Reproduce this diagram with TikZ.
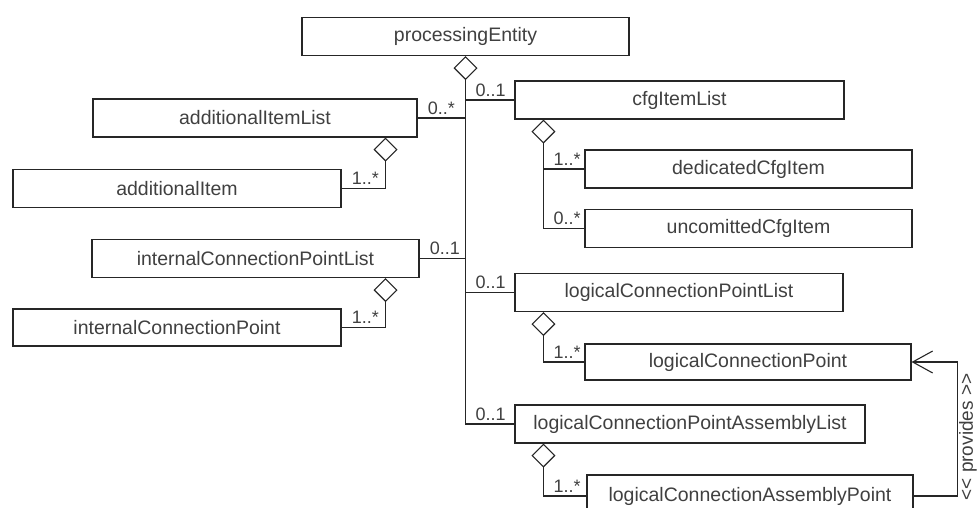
\documentclass[tikz,border=0pt]{standalone}
\usepackage{fontspec}
\setmainfont{Liberation Sans}
\usetikzlibrary{arrows.meta,calc}

\begin{document}
\begin{tikzpicture}[x=1pt,y=-1pt,
  cls/.style={draw=black!85,line width=1.1pt,minimum height=38pt,inner sep=0pt,font=\fontsize{19.5}{22}\selectfont,text=black!75},
  mult/.style={font=\fontsize{18}{20}\selectfont,text=black!75,inner sep=0pt},
  ln/.style={draw=black!85,line width=1.1pt},
  agg/.style={ln,{Diamond[open,length=24pt,width=24pt]}-}]
\clip (0,0) rectangle (980,507);
\node[cls,minimum width=327pt] (pe) at (465.5,36.5) {processingEntity};
\node[cls,minimum width=324pt] (ail) at (255,118) {additionalItemList};
\node[cls,minimum width=329pt] (cil) at (679.5,100) {cfgItemList};
\node[cls,minimum width=327pt] (dci) at (748.5,169) {dedicatedCfgItem};
\node[cls,minimum width=327pt] (uci) at (748.5,228.5) {uncomittedCfgItem};
\node[cls,minimum width=328pt] (ai) at (177,188.5) {additionalItem};
\node[cls,minimum width=327pt] (icpl) at (255.5,258.5) {internalConnectionPointList};
\node[cls,minimum width=328pt,minimum height=37pt] (icp) at (177,327.5) {internalConnectionPoint};
\node[cls,minimum width=328pt] (lcpl) at (679,292.5) {logicalConnectionPointList};
\node[cls,minimum width=326pt,minimum height=36pt] (lcp) at (748,362) {logicalConnectionPoint};
\node[cls,minimum width=350pt] (lcpal) at (690,424) {logicalConnectionPointAssemblyList};
\node[cls,minimum width=326pt,minimum height=42pt] (lcap) at (750,496) {logicalConnectionAssemblyPoint};
\coordinate (aj) at ([xshift=-32pt]ail.south east);
\coordinate (ij) at ([xshift=-34pt]icpl.south east);
\coordinate (cj) at ([xshift=29pt]cil.south west);
\coordinate (lj) at ([xshift=29pt]lcpl.south west);
\coordinate (sj) at ([xshift=29pt]lcpal.south west);
\draw[agg] (pe.south) |- (lcpal.west);
\draw[ln] (pe.south |- ail.east) -- (ail.east);
\draw[ln] (pe.south |- cil.west) -- (cil.west);
\draw[ln] (pe.south |- icpl.east) -- (icpl.east);
\draw[ln] (pe.south |- lcpl.west) -- (lcpl.west);
\draw[agg] (aj) |- (ai.east);
\draw[agg] (ij) |- (icp.east);
\draw[agg] (cj) |- (uci.west);
\draw[ln] (cj |- dci.west) -- (dci.west);
\draw[agg] (lj) |- (lcp.west);
\draw[agg] (sj) |- (lcap.west);
\draw[ln,-{Straight Barb[length=20pt,width=22pt]}] (lcap.east) -- ++(44,0) |- (lcp.east);
\node[mult,anchor=base west] (m1) at ($(pe.south |- cil.west)+(10,-4)$) {0..1};
\node[mult,anchor=base west] (m2) at ($(ail.east)+(10,-4)$) {0..*};
\node[mult,anchor=base west] (m3) at ($(icpl.east)+(10,-4)$) {0..1};
\node[mult,anchor=base west] (m4) at ($(pe.south |- lcpl.west)+(10,-4)$) {0..1};
\node[mult,anchor=base west] (m5) at ($(pe.south |- lcpal.west)+(10,-4)$) {0..1};
\node[mult,anchor=base west] (m6) at ($(cj |- dci.west)+(10,-4)$) {1..*};
\node[mult,anchor=base west] (m7) at ($(cj |- uci.west)+(10,-4)$) {0..*};
\node[mult,anchor=base west] (m8) at ($(ai.east)+(10,-4)$) {1..*};
\node[mult,anchor=base west] (m9) at ($(icp.east)+(10,-4)$) {1..*};
\node[mult,anchor=base west] (m10) at ($(lj |- lcp.west)+(10,-4)$) {1..*};
\node[mult,anchor=base west] (m11) at ($(sj |- lcap.west)+(10,-4)$) {1..*};
\node[mult,rotate=90,font=\fontsize{19}{22}\selectfont] (prov) at (968,437) {<\kern0pt< provides >\kern0pt>};
\end{tikzpicture}
\end{document}
